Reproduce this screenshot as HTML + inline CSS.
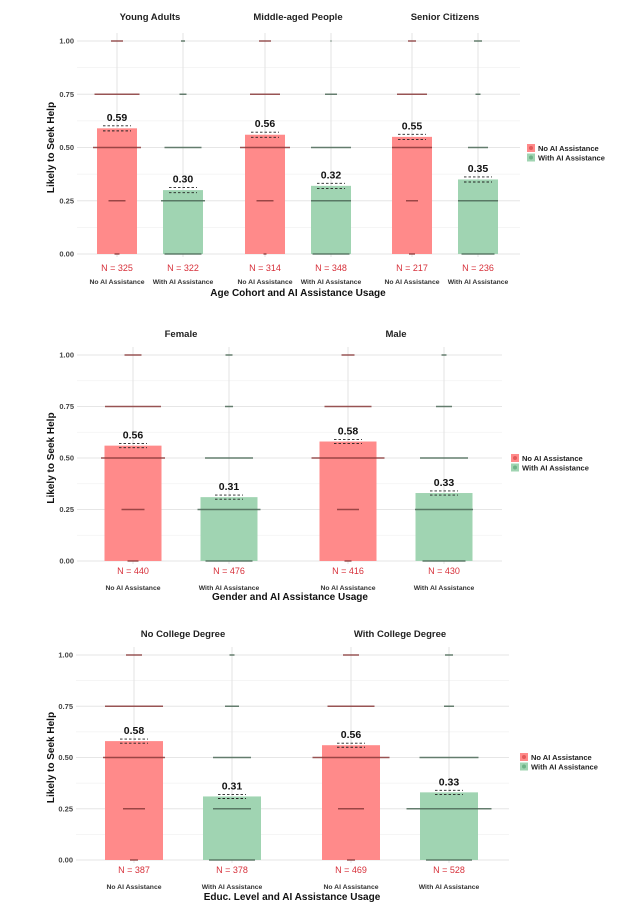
<!DOCTYPE html>
<html><head><meta charset="utf-8">
<style>
html,body{margin:0;padding:0;background:#fff;}
svg{display:block;font-family:"Liberation Sans",Arial,sans-serif;}
</style></head>
<body>
<svg id="chart" width="628" height="911" viewBox="0 0 628 911"></svg>
<script>
// ---- Data: Panel 1 (Age cohort) ----
const p1Facets = ["Young Adults", "Middle-aged People", "Senior Citizens"];
const p1Means = [[0.59, 0.30], [0.56, 0.32], [0.55, 0.35]];
const p1Ns = [[325, 322], [314, 348], [217, 236]];
const p1Se = [[0.012, 0.012], [0.012, 0.012], [0.012, 0.012]];
// jitter counts at values 0, .25, .5, .75, 1
const p1Jitter = [
  [[5, 17, 48, 45, 12], [37, 44, 37, 7, 4]],
  [[3, 17, 50, 30, 12], [37, 40, 40, 12, 1]],
  [[6, 12, 40, 30, 8], [33, 40, 20, 5, 8]]
];
// ---- Data: Panel 2 (Gender) ----
const p2Facets = ["Female", "Male"];
const p2Means = [[0.56, 0.31], [0.58, 0.33]];
const p2Ns = [[440, 476], [416, 430]];
const p2Se = [[0.01, 0.01], [0.01, 0.01]];
const p2Jitter = [
  [[11, 23, 64, 56, 17], [47, 63, 48, 8, 7]],
  [[7, 22, 73, 47, 13], [43, 58, 48, 16, 5]]
];
// ---- Data: Panel 3 (Education) ----
const p3Facets = ["No College Degree", "With College Degree"];
const p3Means = [[0.58, 0.31], [0.56, 0.33]];
const p3Ns = [[387, 378], [469, 528]];
const p3Se = [[0.01, 0.01], [0.01, 0.01]];
const p3Jitter = [
  [[8, 22, 62, 58, 16], [46, 38, 38, 14, 5]],
  [[8, 26, 77, 47, 16], [46, 85, 59, 10, 8]]
];
const groupLabels = ["No AI Assistance", "With AI Assistance"];
const jitterValues = [0, 0.25, 0.5, 0.75, 1];
const yTicks = [0, 0.25, 0.5, 0.75, 1];
const yTickLabels = ["0.00", "0.25", "0.50", "0.75", "1.00"];

const svg = document.getElementById('chart');
const NS = 'http://www.w3.org/2000/svg';
function mk(tag, attrs, parent, text) {
  const e = document.createElementNS(NS, tag);
  for (const k in attrs) e.setAttribute(k, attrs[k]);
  if (text !== undefined) e.textContent = text;
  (parent || svg).appendChild(e);
  return e;
}
const barFill = ['#FF8A8A', '#A0D4B2'];
const jitColor = ['#8a3a3a', '#4d6a58'];

function drawPanel(c) {
  const g = mk('g', {});
  
  
  const y = v => c.y0 - v * (c.y0 - c.y1);
  // minor grid
  for (let i = 0; i < 4; i++) {
    const v = yTicks[i] + 0.125;
    const l = mk('line', {x1: c.L, x2: c.R, y1: y(v), y2: y(v), stroke: '#f2f2f2', 'stroke-width': 0.8}, g);
    
    
  }
  yTicks.forEach((v, i) => {
    const l = mk('line', {x1: c.L, x2: c.R, y1: y(v), y2: y(v), stroke: '#e6e6e6', 'stroke-width': 1}, g);
    
    
    const t = mk('text', {x: c.L - 3, y: y(v) + 2.5, 'text-anchor': 'end', 'font-size': 7.5, 'font-weight': 'bold', fill: '#444'}, g, yTickLabels[i]);
    
    
  });
  const yt = mk('text', {x: 0, y: 0, 'text-anchor': 'middle', 'font-size': 10, 'font-weight': 'bold', fill: '#111', transform: `translate(54,${(c.y0 + c.y1) / 2}) rotate(-90)`}, g, 'Likely to Seek Help');
  
  

  c.facets.forEach((f, fi) => {
    const fc = c.centers[fi];
    const ft = mk('text', {x: fc, y: c.titleY, 'text-anchor': 'middle', 'font-size': 9.5, 'font-weight': 'bold', fill: '#222'}, g, f);
    
    
    [0, 1].forEach(gi => {
      const x = fc + (gi === 0 ? -c.off : c.off);
      const vl = mk('line', {x1: x, x2: x, y1: c.y1 - 8, y2: c.y0 + 3, stroke: '#e3e3e3', 'stroke-width': 1}, g);
      
      
      const m = c.means[fi][gi];
      const b = mk('rect', {x: x - c.bw / 2, y: y(m), width: c.bw, height: c.y0 - y(m), fill: barFill[gi]}, g);
      
      
      jitterValues.forEach((jv, ji) => {
        const w = c.jitter[fi][gi][ji] * c.jk;
        const jl = mk('line', {x1: x - w / 2, x2: x + w / 2, y1: y(jv), y2: y(jv), stroke: jitColor[gi], 'stroke-width': 1.5, opacity: 0.85}, g);
        
        
      });
      const se = c.se[fi][gi];
      [m + se, m - se].forEach(ev => {
        const el = mk('line', {x1: x - 14, x2: x + 14, y1: y(ev), y2: y(ev), stroke: '#222', 'stroke-width': 0.9, 'stroke-dasharray': '2.5,2'}, g);
        
        
      });
      const vt = mk('text', {x: x, y: y(m + se) - 5, 'text-anchor': 'middle', 'font-size': 10.5, 'font-weight': 'bold', fill: '#111'}, g, m.toFixed(2));
      
      
      const nt = mk('text', {x: x, y: c.Ny, 'text-anchor': 'middle', 'font-size': 9, fill: '#d7303a'}, g, 'N = ' + c.ns[fi][gi]);
      
      
      const ct = mk('text', {x: x, y: c.catY, 'text-anchor': 'middle', 'font-size': 6.8, 'font-weight': 'bold', fill: '#333'}, g, groupLabels[gi]);
      
      
    });
  });
  const at = mk('text', {x: c.axisX, y: c.axisY, 'text-anchor': 'middle', 'font-size': 10, 'font-weight': 'bold', fill: '#111'}, g, c.axisTitle);
  
  
  [0, 1].forEach(gi => {
    const ly = c.legY + gi * 9.5;
    const lr = mk('rect', {x: c.legX, y: ly - 4, width: 8, height: 8, fill: barFill[gi]}, g);
    
    
    mk('circle', {cx: c.legX + 4, cy: ly, r: 2, fill: gi === 0 ? '#e35a5a' : '#6fb388'}, g);
    const lt = mk('text', {x: c.legX + 11, y: ly + 3, 'font-size': 7.5, 'font-weight': 'bold', fill: '#222'}, g, groupLabels[gi]);
    
    
  });
}

drawPanel({name: 'age-panel', facets: p1Facets, means: p1Means, ns: p1Ns, se: p1Se, jitter: p1Jitter,
  y1: 41, y0: 254, L: 77, R: 520, centers: [150, 298, 445], off: 33, bw: 40, jk: 1,
  titleY: 20, Ny: 271, catY: 284, axisY: 296, axisX: 298, axisTitle: 'Age Cohort and AI Assistance Usage', legX: 527, legY: 148});
drawPanel({name: 'gender-panel', facets: p2Facets, means: p2Means, ns: p2Ns, se: p2Se, jitter: p2Jitter,
  y1: 355, y0: 561, L: 77, R: 502, centers: [181, 396], off: 48, bw: 57, jk: 1,
  titleY: 337, Ny: 574, catY: 590, axisY: 600, axisX: 290, axisTitle: 'Gender and AI Assistance Usage', legX: 511, legY: 458});
drawPanel({name: 'education-panel', facets: p3Facets, means: p3Means, ns: p3Ns, se: p3Se, jitter: p3Jitter,
  y1: 655, y0: 860, L: 76, R: 509, centers: [183, 400], off: 49, bw: 58, jk: 1,
  titleY: 637, Ny: 873, catY: 889, axisY: 900, axisX: 292, axisTitle: 'Educ. Level and AI Assistance Usage', legX: 520, legY: 757});
</script>
</body></html>
